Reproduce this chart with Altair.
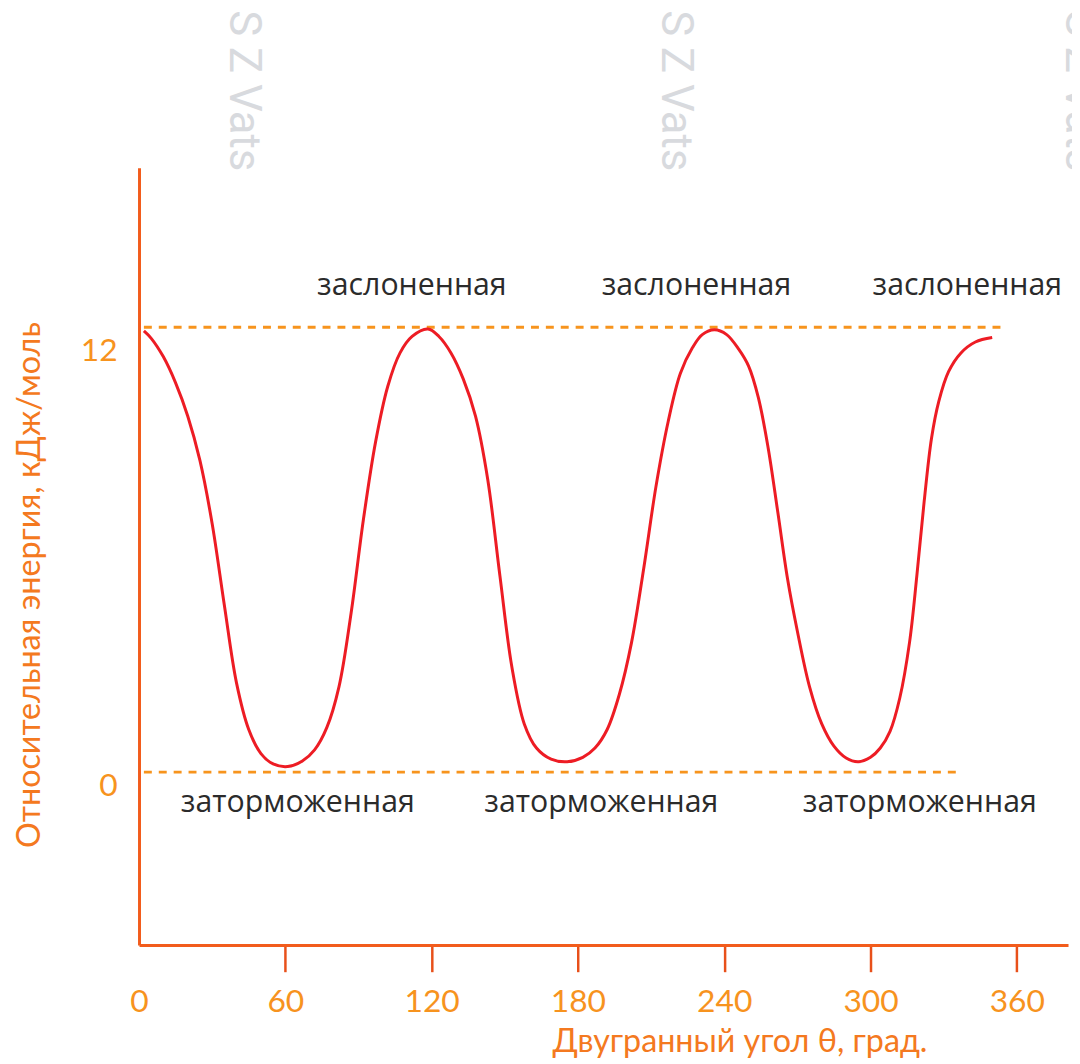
import altair as alt
import pandas as pd

# Curve: dihedral angle (deg) -> relative energy (kJ/mol)
angle = [2, 5, 10, 15, 20, 25, 30, 35, 40, 45, 50, 55, 61, 67, 72, 77, 82, 87, 92, 97, 102,
         107, 112, 118.5,
         123, 128, 133, 138, 143, 148, 153, 158, 163, 169, 175.6, 182, 187, 192, 197, 202,
         207, 212, 217, 222, 227, 231, 236,
         241, 246, 250, 254, 258, 262, 266, 270, 275, 280, 285, 290, 295, 300, 304, 308, 312,
         316, 319, 322, 325, 328, 332, 337, 343, 349.9]
energy = [11.9, 11.7, 11.2, 10.5, 9.6, 8.4, 6.7, 4.5, 2.4, 1.15, 0.5, 0.22, 0.15, 0.3, 0.6,
          1.2, 2.3, 4.3, 6.8, 8.9, 10.4, 11.3, 11.75, 11.95,
          11.75, 11.3, 10.6, 9.6, 7.9, 5.3, 2.8, 1.3, 0.65, 0.35, 0.28, 0.4, 0.65, 1.15, 2.1,
          3.5, 5.5, 7.7, 9.45, 10.75, 11.45, 11.8, 11.93,
          11.8, 11.4, 10.95, 10.1, 8.75, 7.0, 5.2, 3.8, 2.3, 1.3, 0.7, 0.38, 0.28, 0.4, 0.65,
          1.1, 2.0, 3.5, 5.3, 7.3, 9.0, 10.0, 10.8, 11.3, 11.6, 11.72]

# Dashed reference levels
level_value = [12, 0]
level_start = [2, 2]
level_end = [354.5, 337.5]

# Annotations
top_label = "заслоненная"
top_x = [111.9, 228.6, 339.7]
top_y = [13.1, 13.1, 13.1]
bottom_label = "заторможенная"
bottom_x = [65.1, 189.6, 320.2]
bottom_y = [-0.83, -0.83, -0.83]

# Watermark
wm_text = "S Z Vats"
wm_x = [42.7, 219.7, 385.5]
wm_y = [20.55, 20.55, 20.55]

x_ticks = [0, 60, 120, 180, 240, 300, 360]
y_ticks = [0, 12]

curve_df = pd.DataFrame({"angle": angle, "energy": energy})
levels_df = pd.DataFrame({"v": level_value, "x1": level_start, "x2": level_end})
ann_df = pd.DataFrame({
    "x": top_x + bottom_x,
    "y": top_y + bottom_y,
    "t": [top_label] * 3 + [bottom_label] * 3,
})
wm_df = pd.DataFrame({"x": wm_x, "y": wm_y, "t": [wm_text] * 3})

AXIS_COLOR = "#f25c1c"
LABEL_COLOR = "#f7931e"
TITLE_COLOR = "#f47920"

xscale = alt.Scale(domain=[0, 381], nice=False, zero=False)
yscale = alt.Scale(domain=[-4.66, 16.30], nice=False, zero=False)

x_axis = alt.Axis(
    values=x_ticks, title="Двугранный угол θ, град.",
    domainColor=AXIS_COLOR, domainWidth=3,
    tickColor="#e8501a", tickWidth=2.5, tickSize=27,
    tickOpacity={"condition": {"test": "datum.value === 0", "value": 0}, "value": 1},
    labelColor=LABEL_COLOR, labelFont="Lato", labelFontSize=32, labelPadding=15,
    labelFlush=False, grid=False,
    titleColor=TITLE_COLOR, titleFont="Lato", titleFontSize=32.5, titleFontWeight="normal",
    titleX=605, titleY=97, titleAlign="center", titleBaseline="middle",
)
y_axis = alt.Axis(
    values=y_ticks, title="Относительная энергия, кДж/моль",
    domainColor=AXIS_COLOR, domainWidth=3, ticks=False,
    labelColor=LABEL_COLOR, labelFont="Lato", labelFontSize=32, labelPadding=22,
    labelOffset={"condition": {"test": "datum.value === 12", "value": 24}, "value": 14},
    grid=False,
    titleColor=TITLE_COLOR, titleFont="Lato", titleFontSize=32.5, titleFontWeight="normal",
    titleX=-110, titleY=420, titleAngle=270, titleAlign="center", titleBaseline="middle",
)

watermark = alt.Chart(wm_df).mark_text(
    angle=90, align="left", baseline="middle",
    font="Roboto", fontSize=44, color="#d8dade",
).encode(
    x=alt.X("x:Q", scale=xscale, axis=x_axis),
    y=alt.Y("y:Q", scale=yscale, axis=y_axis),
    text="t:N",
)

levels = alt.Chart(levels_df).mark_rule(
    color="#f7941d", strokeWidth=3, strokeDash=[8, 7],
).encode(
    x=alt.X("x1:Q", scale=xscale),
    x2="x2:Q",
    y=alt.Y("v:Q", scale=yscale),
)

curve = alt.Chart(curve_df).mark_line(
    color="#ed1c24", strokeWidth=3, interpolate="catmull-rom",
).encode(
    x=alt.X("angle:Q", scale=xscale),
    y=alt.Y("energy:Q", scale=yscale),
)

ann = alt.Chart(ann_df).mark_text(
    font="Open Sans", fontSize=30.5, color="#2b2b2b", align="center", baseline="middle",
).encode(
    x=alt.X("x:Q", scale=xscale),
    y=alt.Y("y:Q", scale=yscale),
    text="t:N",
)

chart = alt.layer(watermark, levels, curve, ann).properties(
    width=936, height=783,
    autosize=alt.AutoSizeParams(type="none"),
    padding={"left": 132, "top": 157, "right": 4, "bottom": 112},
    background="white",
).configure_view(stroke=None)

chart.save("out.html", embed_options={"renderer": "svg", "actions": False})
